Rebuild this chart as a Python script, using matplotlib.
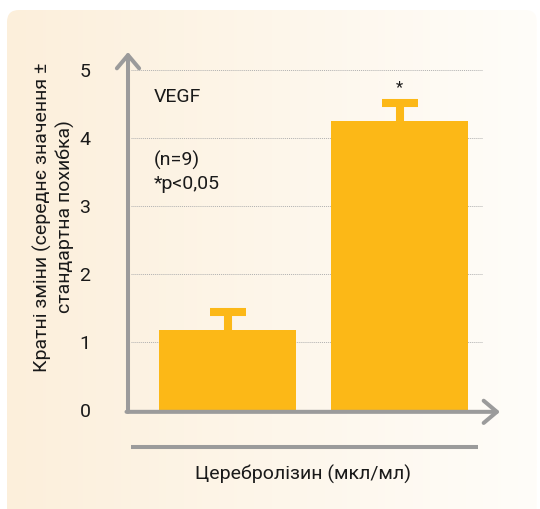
import numpy as np
import matplotlib
matplotlib.use('Agg')
import matplotlib.pyplot as plt
from matplotlib.patches import FancyBboxPatch

#data:
categories = ['control', 'cerebrolysin']
foldChange = [1.18, 4.25]
stdError = [0.27, 0.26]
significant = [False, True]
yTicks = [0, 1, 2, 3, 4, 5]

#style:
plt.rcParams['font.family'] = ['Roboto', 'DejaVu Sans']
barColor = '#fcb817'
axisGray = '#9b9b9b'
textColor = '#1a1a1a'
fontSize = 14
W, H = 540, 509

def fx(px):
    return px / W

def fy(py):
    return 1 - py / H

fig = plt.figure(figsize=(W / 100, H / 100), dpi=100)
fig.patch.set_facecolor('white')

#rounded cream panel with horizontal gradient
bg = fig.add_axes([0, 0, 1, 1], zorder=-1)
bg.set_xlim(0, W)
bg.set_ylim(H, 0)
bg.axis('off')
left = np.array(matplotlib.colors.to_rgb('#fcefdb'))
right = np.array(matplotlib.colors.to_rgb('#fffdf9'))
t = np.linspace(0, 1, 256)[None, :, None]
grad = left * (1 - t) + right * t
im = bg.imshow(grad, extent=(7, 537, 512, 10), aspect='auto')
panel = FancyBboxPatch((19, 22), 506, 490, boxstyle='round,pad=12',
                       transform=bg.transData, facecolor='none', edgecolor='none')
bg.add_patch(panel)
im.set_clip_path(panel)

#main axes: left edge = y axis line, right edge = arrow tip
x0, x1 = 128, 500
yZero, yTop = 410.4, 52
ax = fig.add_axes([fx(x0), fy(yZero), fx(x1) - fx(x0), fy(yTop) - fy(yZero)])
ax.set_facecolor('none')
pxPerUnit = (342.3 - 70) / 4
ax.set_ylim(0, (yZero - yTop) / pxPerUnit)
barStep = 172
ax.set_xlim(-(227.5 - x0) / barStep, 1 + (x1 - 399.5) / barStep)
for s in ax.spines.values():
    s.set_visible(False)

xs = np.arange(len(categories))
ax.hlines(yTicks[1:], -(227.5 - 131) / barStep, (482 - 227.5) / barStep,
          colors='#b0b0b0', linestyles=(0, (1, 1)), linewidth=0.7, zorder=1)
ax.bar(xs, foldChange, width=137 / barStep, color=barColor, zorder=2)
#upper error bars only: stem + thick cap
tops = np.array(foldChange) + np.array(stdError)
capHalf = 18 / barStep
ax.vlines(xs, foldChange, tops, colors=barColor, linewidth=5.8, zorder=2)
ax.hlines(tops, xs - capHalf, xs + capHalf, colors=barColor, linewidth=5.8,
          zorder=2)
for x, y, sig in zip(xs, tops, significant):
    if sig:
        ax.text(x, y + 0.12, '*', ha='center', va='bottom',
                fontsize=12, color=textColor)

ax.set_yticks(yTicks)
ax.set_xticks([])
ax.tick_params(axis='y', length=0, pad=27, labelsize=fontSize, labelcolor=textColor)

#axis lines with open arrowheads
arrow = dict(arrowstyle='->,head_length=0.95,head_width=0.8', lw=2.9,
             color=axisGray, shrinkA=0, shrinkB=0)
ax.annotate('', xy=(0, 1), xytext=(0, -0.004), xycoords='axes fraction',
            arrowprops=arrow)
ax.annotate('', xy=(1, -0.004), xytext=(-0.004, -0.004), xycoords='axes fraction',
            arrowprops=arrow)

#labels
ax.text(0.068, (yZero - 97) / pxPerUnit, 'VEGF', transform=ax.get_yaxis_transform(),
        ha='left', va='center', fontsize=fontSize, color=textColor)
ax.text(0.068, (yZero - 172) / pxPerUnit, '(n=9)\n*p<0,05',
        transform=ax.get_yaxis_transform(), ha='left', va='center',
        fontsize=fontSize, color=textColor, linespacing=1.3)
fig.text(fx(54), fy(217), 'Кратні зміни (середнє значення ±\nстандартна похибка)',
         rotation=90, ha='center', va='center', fontsize=fontSize,
         color=textColor, linespacing=1.3, multialignment='center')
fig.text(fx(303), fy(474), 'Церебролізин (мкл/мл)', ha='center', va='center',
         fontsize=fontSize, color=textColor)
bg.plot([131, 478], [447, 447], color=axisGray, lw=2.9, solid_capstyle='butt')

fig.savefig('out.png', dpi=100)
